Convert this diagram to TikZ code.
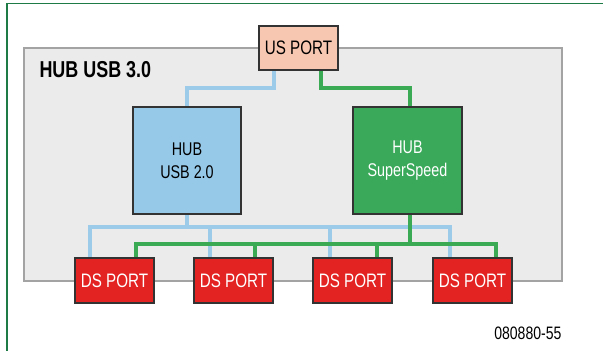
\documentclass[tikz,border=0pt]{standalone}
\usepackage{fontspec}
\setmainfont{Liberation Sans}[FakeStretch=0.78]
\definecolor{framegreen}{HTML}{1E7B46}
\definecolor{hubgray}{HTML}{EBEBEB}
\definecolor{hubedge}{HTML}{A3A3A3}
\definecolor{usfill}{HTML}{F7C7B1}
\definecolor{usb2fill}{HTML}{96C8E8}
\definecolor{ssfill}{HTML}{3AA95A}
\definecolor{dsfill}{HTML}{E32222}
\definecolor{usbline}{HTML}{9CCBEA}
\definecolor{ssline}{HTML}{3AAA55}
\definecolor{boxedge}{HTML}{333333}
\pgfdeclarelayer{back}
\pgfdeclarelayer{wire}
\pgfsetlayers{back,wire,main}
\begin{document}
\begin{tikzpicture}[x=1pt,y=-1pt,
  boxbase/.style={draw=boxedge,line width=1.3pt,inner sep=0pt,align=center},
  portbox/.style={boxbase,minimum width=79pt,minimum height=45pt,
    font=\fontsize{19.5}{22}\selectfont},
  usport/.style={portbox,fill=usfill,text=black,minimum height=44pt},
  dsport/.style={portbox,fill=dsfill,text=white},
  hubbox/.style={boxbase,minimum width=108pt,minimum height=107pt,
    font=\fontsize{18.4}{23}\selectfont},
  usbwire/.style={usbline,line width=4pt},
  sswire/.style={ssline,line width=4pt},
]
\useasboundingbox (0,0) rectangle (603,351);
\begin{pgfonlayer}{back}
  % outer frame
  \draw[framegreen,line width=1.5pt] (7,351) -- (7,3.3) -- (603,3.3);
  % USB 3.0 hub enclosure
  \path[fill=hubgray,draw=hubedge,line width=1.5pt] (24,48) rectangle (562,281);
\end{pgfonlayer}
\node[anchor=west,font=\bfseries\fontsize{23}{26}\selectfont] (title) at (36,70) {HUB USB 3.0};
\node[anchor=east,font=\fontsize{18}{20}\selectfont] (fig) at (565,333) {080880-55};

% boxes
\node[usport] (us) at (298.5,48) {US PORT};
\node[hubbox,fill=usb2fill] (usb2) at (187,160.5) {HUB\\USB 2.0};
\node[hubbox,fill=ssfill,text=white,minimum width=109pt] (ss) at (407.5,160.5) {HUB\\SuperSpeed};
\node[dsport] (ds1) at (114.5,280.5) {DS PORT};
\node[dsport] (ds2) at (233.5,280.5) {DS PORT};
\node[dsport] (ds3) at (352.5,280.5) {DS PORT};
\node[dsport] (ds4) at (472.5,280.5) {DS PORT};

% bus levels
\coordinate (upbus) at (0,88);
\coordinate (bbus) at (0,227);
\coordinate (gbus) at (0,244);

\begin{pgfonlayer}{wire}
  % upstream port to both hubs
  \draw[usbwire] ([xshift=-24.5pt]us.south) coordinate (ub)
    -- (ub |- upbus) -| (usb2.north);
  \draw[sswire] ([xshift=22.5pt]us.south) coordinate (ug)
    -- (ug |- upbus) -| ([xshift=2.5pt]ss.north);
  % USB 2.0 bus to the downstream ports
  \draw[usbwire] (usb2.south) -- (usb2.south |- bbus);
  \draw[usbwire] ([xshift=-24.5pt]ds1.north) coordinate (b1)
    -- (b1 |- bbus) -| ([xshift=-22.5pt]ds4.north);
  \draw[usbwire] ([xshift=-23.5pt]ds2.north) -- ([xshift=-23.5pt]ds2.north |- bbus);
  \draw[usbwire] ([xshift=-22.5pt]ds3.north) -- ([xshift=-22.5pt]ds3.north |- bbus);
  % SuperSpeed bus to the downstream ports
  \draw[sswire] ([xshift=2.5pt]ss.south) -- ([xshift=2.5pt]ss.south |- gbus);
  \draw[sswire] ([xshift=21.5pt]ds1.north) coordinate (g1)
    -- (g1 |- gbus) -| ([xshift=23pt]ds4.north);
  \draw[sswire] ([xshift=21.5pt]ds2.north) -- ([xshift=21.5pt]ds2.north |- gbus);
  \draw[sswire] ([xshift=24pt]ds3.north) -- ([xshift=24pt]ds3.north |- gbus);
\end{pgfonlayer}
\end{tikzpicture}
\end{document}
